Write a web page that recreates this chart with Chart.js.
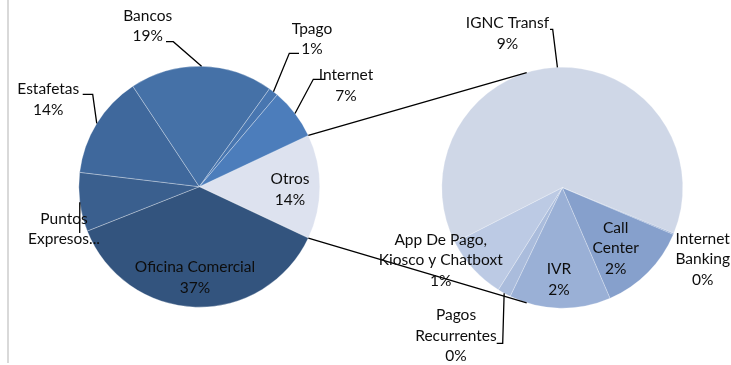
<!DOCTYPE html>
<html>
<head>
<meta charset="utf-8">
<script src="https://cdn.jsdelivr.net/npm/chart.js@4.4.1/dist/chart.umd.min.js"></script>
<style>
  body { margin:0; background:#fff; }
  #wrap { position:relative; width:731px; height:365px; }
  #wrap canvas { position:absolute; left:0; top:0; }
  #edge { position:absolute; left:7px; top:0; width:2px; height:363px; background:#d9d9d9; }
</style>
</head>
<body>
<div id="wrap">
  <div id="edge"></div>
  <canvas id="main" width="731" height="365"></canvas>
  <canvas id="sub" width="731" height="365"></canvas>
</div>
<script>
// first pie, clockwise starting with Otros
var mainLabels = [['Otros'], ['Oficina Comercial'], ['Puntos', 'Expresos...'], ['Estafetas'], ['Bancos'], ['Tpago'], ['Internet']];
var mainValues = [14.0, 37.0, 7.9, 13.8, 19.2, 1.3, 6.8];
var mainColors = ['#dde2ef', '#33547e', '#3a5f8e', '#3f689c', '#4571a7', '#4876b0', '#4c7dbb'];

// second pie (breakdown of Otros), clockwise starting with IGNC Transf
var subLabels = [['IGNC Transf'], ['Internet', 'Banking'], ['Call', 'Center'], ['IVR'], ['Pagos', 'Recurrentes'], ['App De Pago,', 'Kiosco y Chatboxt']];
var subValues = [8.9, 0.02, 1.7, 1.9, 0.25, 1.2];
var subColors = ['#cfd7e7', '#849ecb', '#86a0cc', '#9ab0d6', '#aabcdc', '#bccae4'];

// label placement, offsets from the pie centre
var mainLayout = [
  {dx: 90.7, dy: 2.8},
  {dx: -4.3, dy: 90.8},
  {dx: -135.3, dy: 42.3, noPct: true, leader: [[-119.6, 46.3]]},
  {dx: -151, dy: -87.4, leader: [[-106.6, -92.4], [-116.6, -92.4]]},
  {dx: -51.6, dy: -160.5, leader: [[-26, -145], [-33.3, -145]]},
  {dx: 112.7, dy: -147.7, leader: [[90, -133.4], [99.7, -133.4]]},
  {dx: 146.7, dy: -101.2, leader: [[114, -107.4], [125.7, -107.4]]}
];
var subLayout = [
  {dx: -54.8, dy: -154.4, leader: [[-9.6, -158.4], [-12.3, -158.4]]},
  {dx: 140.4, dy: 71.3},
  {dx: 53.4, dy: 60.6},
  {dx: -3.3, dy: 92},
  {dx: -106.3, dy: 148, leader: [[-59.6, 155.6], [-65.6, 155.6]]},
  {dx: -121.6, dy: 72.3}
];

var total = mainValues.reduce(function(a, b){ return a + b; }, 0);
var FONT = '15.5px Lato, "Open Sans", sans-serif';
var LINE_H = 20.5;

function drawLabels(chart, labels, values, layout) {
  var ctx = chart.ctx;
  var arcs = chart.getDatasetMeta(0).data;
  ctx.save();
  ctx.font = FONT;
  ctx.fillStyle = '#0d0d0d';
  ctx.strokeStyle = '#000';
  ctx.lineWidth = 1.3;
  ctx.textAlign = 'center';
  ctx.textBaseline = 'middle';
  for (var i = 0; i < arcs.length; i++) {
    var a = arcs[i], L = layout[i];
    var cx = a.x, cy = a.y;
    if (L.leader) {
      var mid = (a.startAngle + a.endAngle) / 2;
      ctx.beginPath();
      ctx.moveTo(cx + Math.cos(mid) * a.outerRadius, cy + Math.sin(mid) * a.outerRadius);
      L.leader.forEach(function(p){ ctx.lineTo(cx + p[0], cy + p[1]); });
      ctx.stroke();
    }
    var lines = labels[i].slice();
    if (!L.noPct) lines.push(Math.round(values[i] / total * 100) + '%');
    var y0 = cy + L.dy - (lines.length - 1) * LINE_H / 2;
    lines.forEach(function(t, k){ ctx.fillText(t, cx + L.dx, y0 + k * LINE_H); });
  }
  ctx.restore();
}

var baseOpts = {
  responsive: false,
  animation: false,
  plugins: { legend: { display: false }, tooltip: { enabled: false } }
};

var mainChart = new Chart(document.getElementById('main'), {
  type: 'pie',
  data: {
    labels: mainLabels,
    datasets: [{ data: mainValues, backgroundColor: mainColors, borderColor: 'rgba(255,255,255,0.3)', borderWidth: 1 }]
  },
  options: Object.assign({}, baseOpts, {
    rotation: 64.8,
    layout: { padding: { left: 78, right: 410.4, top: 65.7, bottom: 57.3 } }
  }),
  plugins: [{
    id: 'mainLabels',
    afterDraw: function(chart){ drawLabels(chart, mainLabels, mainValues, mainLayout); }
  }]
});

var subChart = new Chart(document.getElementById('sub'), {
  type: 'pie',
  data: {
    labels: subLabels,
    datasets: [{ data: subValues, backgroundColor: subColors, borderColor: 'rgba(255,255,255,0.25)', borderWidth: 1 }]
  },
  options: Object.assign({}, baseOpts, {
    rotation: 243,
    layout: { padding: { left: 441.3, right: 47.7, top: 66.7, bottom: 56.3 } }
  }),
  plugins: [{
    id: 'subLabels',
    afterDraw: function(chart){
      // connector lines from the Otros slice to the second pie
      var otros = mainChart.getDatasetMeta(0).data[0];
      var s = chart.getDatasetMeta(0).data[0];
      var ctx = chart.ctx;
      var ang = 107.2 * Math.PI / 180;
      ctx.save();
      ctx.strokeStyle = '#000';
      ctx.lineWidth = 1.3;
      ctx.beginPath();
      ctx.moveTo(otros.x + Math.cos(otros.startAngle) * otros.outerRadius, otros.y + Math.sin(otros.startAngle) * otros.outerRadius);
      ctx.lineTo(s.x + Math.cos(-ang) * s.outerRadius, s.y + Math.sin(-ang) * s.outerRadius);
      ctx.moveTo(otros.x + Math.cos(otros.endAngle) * otros.outerRadius, otros.y + Math.sin(otros.endAngle) * otros.outerRadius);
      ctx.lineTo(s.x + Math.cos(ang) * s.outerRadius, s.y + Math.sin(ang) * s.outerRadius);
      ctx.stroke();
      ctx.restore();
      drawLabels(chart, subLabels, subValues, subLayout);
    }
  }]
});
</script>
</body>
</html>
